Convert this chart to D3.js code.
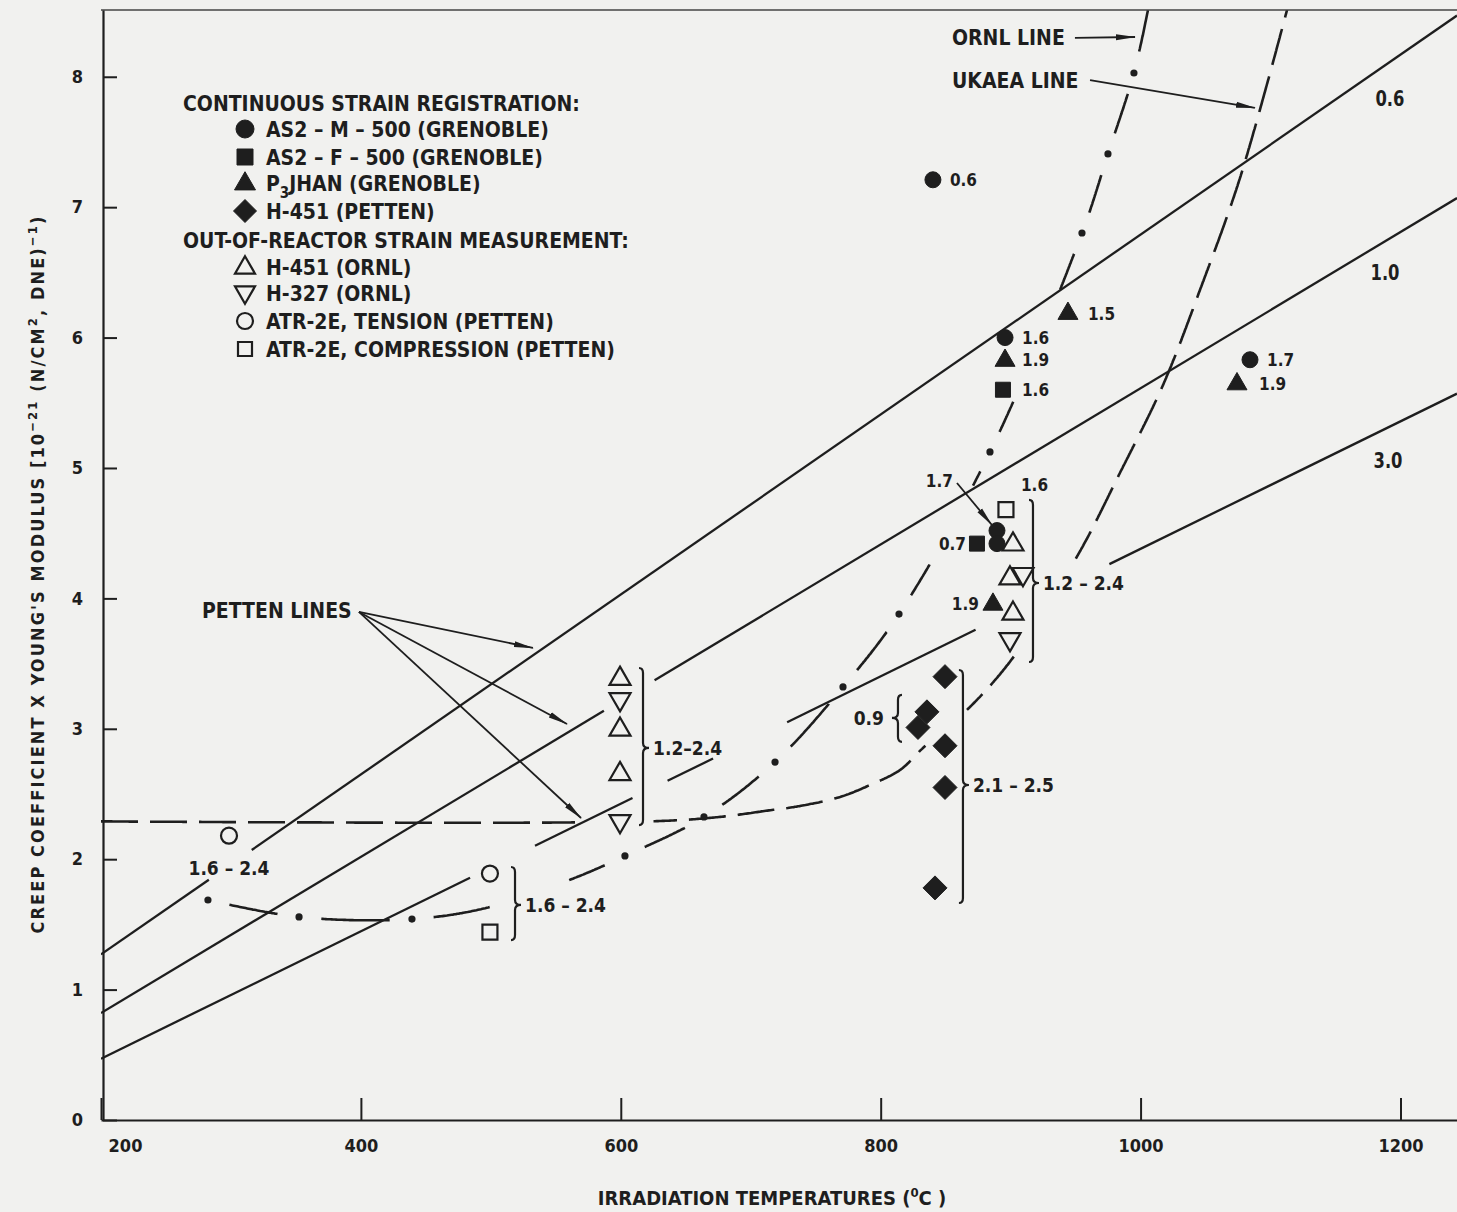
<!DOCTYPE html>
<html><head><meta charset="utf-8">
<script src="https://cdn.jsdelivr.net/npm/d3@7"></script>
<style>
html,body{margin:0;padding:0;background:#f1f1ef;}
svg{display:block;}
text{font-family:"Liberation Sans Narrow","DejaVu Sans Condensed","Arial Narrow",sans-serif;font-weight:bold;fill:#1e1e1e;}
</style></head><body>
<svg id="c" width="1457" height="1212"></svg>
<script>
// ---------------- DATA ----------------
const xTicks=[200,400,600,800,1000,1200];
const yTicks=[0,1,2,3,4,5,6,7,8];
// Petten lines (straight): value at 200 C and at right edge (1243.5 C)
const pettenLabels=["0.6","1.0","3.0"];
const pettenStart=[1.27,0.82,0.47];
const pettenEnd=[8.47,7.07,5.57];
// ORNL dash-dot curve (temperature, value)
const ornlCurve=[[282.3,1.687],[352.4,1.557],[439.3,1.541],[499.3,1.633],[562.4,1.848],[603.2,2.025],[664.0,2.324],[718.7,2.745],[771.0,3.321],[814.1,3.880],[884.1,5.123],[954.9,6.802],[974.9,7.408],[994.9,8.029],[1005.7,8.512]];
const ornlDots=[[282.3,1.687],[352.4,1.557],[439.3,1.541],[603.2,2.025],[664.0,2.324],[718.7,2.745],[771.0,3.321],[814.1,3.880],[884.1,5.123],[954.9,6.802],[974.9,7.408],[994.9,8.029]];
// UKAEA dashed curve
const ukaeaCurve=[[200,2.29],[622,2.29],[676.3,2.324],[711.0,2.370],[737.9,2.408],[768.7,2.477],[791.8,2.569],[814.9,2.684],[832.6,2.853],[868.7,3.167],[903.4,3.566],[951.8,4.333],[984.1,4.962],[1017.3,5.637],[1045.7,6.365],[1076.5,7.224],[1112.7,8.512]];
// Measurements [temperature, value, fluence label]
const as2M=[[840.2,7.21,"0.6"],[895.7,6.00,"1.6"],[1084.2,5.83,"1.7"],[889.5,4.52,""],[889.5,4.42,""]];
const as2F=[[894.1,5.60,"1.6"],[874.1,4.42,"0.7"]];
const p3jhan=[[944.1,6.19,"1.5"],[895.7,5.83,"1.9"],[1074.2,5.65,"1.9"],[886.4,3.96,"1.9"]];
const h451Petten=[[849.5,3.40],[835.6,3.13],[828.7,3.01],[849.5,2.87],[849.5,2.55],[841.8,1.78]];
const h451Ornl=[[599.4,3.39],[599.4,3.00],[599.4,2.66],[901.8,4.42],[899.5,4.16],[901.8,3.89]];
const h327Ornl=[[599.4,3.22],[599.4,2.285],[909.5,4.18],[899.5,3.68]];
const atrTension=[[298.5,2.18],[499.3,1.89]];
const atrCompression=[[499.3,1.44],[896.4,4.68,"1.6"]];
// Fluence range brackets: temperature, value top, value bottom, tip value, label
const bracketT=[617.1,518.6,917.2,863.3,813.3];
const bracketTop=[3.466,1.94,4.755,3.451,3.26];
const bracketBottom=[2.262,1.38,3.512,1.664,2.90];
const bracketTip=[2.853,1.649,4.118,2.569,3.083];
const bracketLabels=["1.2–2.4","1.6 – 2.4","1.2 – 2.4","2.1 – 2.5","0.9"];
const bracketDir=[1,1,1,1,-1];

// ---------------- LAYOUT ----------------
const ink="#1e1e1e", bg="#f1f1ef";
const svg=d3.select("#c");
const x=d3.scaleLinear().domain([200,1243.5]).range([101,1457]);
const y=d3.scaleLinear().domain([0,8.512]).range([1120,10]);
const Tmax=1243.5;

svg.append("defs").html(`
<clipPath id="plot"><rect x="101" y="10" width="1356" height="1110"/></clipPath>
<marker id="ah" viewBox="0 0 20 8" refX="19" refY="4" markerWidth="20" markerHeight="8" markerUnits="userSpaceOnUse" orient="auto"><path d="M0,1 L20,4 L0,7 Z" fill="${ink}"/></marker>`);

const g=svg.append("g").attr("clip-path","url(#plot)");

// frame top
svg.append("line").attr("x1",x(200)).attr("x2",1457).attr("y1",y(8.512)).attr("y2",y(8.512)).attr("stroke","#444").attr("stroke-width",1.6);

// axes
const xa=svg.append("g").attr("transform",`translate(0,${y(0)})`)
 .call(d3.axisBottom(x).tickValues(xTicks).tickSize(-22).tickSizeOuter(0).tickPadding(19).tickFormat(d3.format("d")));
const ya=svg.append("g").attr("transform",`translate(${x(200)+2},0)`)
 .call(d3.axisLeft(y).tickValues(yTicks).tickSize(-14).tickSizeOuter(0).tickPadding(20).tickFormat(d3.format("d")));
[xa,ya].forEach(a=>{a.attr("font-family",null);a.select(".domain").attr("stroke",ink).attr("stroke-width",2.2);
 a.selectAll(".tick line").attr("stroke",ink).attr("stroke-width",2);
 a.selectAll(".tick text").attr("font-size",18).attr("fill",ink);});
xa.selectAll(".tick").filter(d=>d===200).select("text").attr("dx",24);

// axis titles
const yt=svg.append("text").attr("transform",`translate(44,574) rotate(-90)`).attr("text-anchor","middle").attr("font-size",18).attr("letter-spacing",2.1);
yt.append("tspan").text("CREEP COEFFICIENT X YOUNG'S MODULUS [10");
yt.append("tspan").attr("dy",-7).attr("font-size",13).text("−21");
yt.append("tspan").attr("dy",7).text(" (N/CM");
yt.append("tspan").attr("dy",-7).attr("font-size",13).text("2");
yt.append("tspan").attr("dy",7).text(", DNE)");
yt.append("tspan").attr("dy",-7).attr("font-size",13).text("−1");
yt.append("tspan").attr("dy",7).text(")");
const xt=svg.append("text").attr("x",772).attr("y",1205).attr("text-anchor","middle").attr("font-size",20);
xt.append("tspan").text("IRRADIATION TEMPERATURES (");
xt.append("tspan").attr("dy",-8).attr("font-size",13).text("0");
xt.append("tspan").attr("dy",8).text("C )");

// ---------- helpers ----------
function splitRange(t0,t1,gaps){let segs=[[t0,t1]];for(const gp of gaps){segs=segs.flatMap(([a,b])=>{if(gp[1]<=a||gp[0]>=b)return[[a,b]];const o=[];if(gp[0]>a)o.push([a,gp[0]]);if(gp[1]<b)o.push([gp[1],b]);return o;});}return segs;}
function hidden(points){return g.append("path").attr("d",d3.line().x(d=>x(d[0])).y(d=>y(d[1])).curve(d3.curveCatmullRom.alpha(0.5))(points)).attr("fill","none").attr("stroke","none").node();}
function sampled(node,intervals,gaps){let d="";for(const[s0,s1]of intervals){let pen=false;for(let s=s0;;s+=1.5){const ss=Math.min(s,s1);const p=node.getPointAtLength(ss);const T=x.invert(p.x);const inGap=gaps.some(q=>T>=q[0]&&T<=q[1]);if(inGap){pen=false;}else{d+=(pen?"L":"M")+p.x.toFixed(1)+","+p.y.toFixed(1);pen=true;}if(ss>=s1)break;}}return d;}
function lengthAt(node,px,py){let best=0,bd=1e12;const L=node.getTotalLength();for(let s=0;s<=L;s+=0.75){const p=node.getPointAtLength(s);const dd=(p.x-px)**2+(p.y-py)**2;if(dd<bd){bd=dd;best=s;}}return best;}

// ---------- Petten lines ----------
const pettenGaps=[[[283,316]],[[587,626]],[[484,534],[609,636],[671,728],[873,976]]];
pettenLabels.forEach((lab,i)=>{
  const val=T=>pettenStart[i]+(pettenEnd[i]-pettenStart[i])*(T-200)/(Tmax-200);
  splitRange(200,Tmax,pettenGaps[i]).forEach(([a,b])=>{
    g.append("line").attr("x1",x(a)).attr("y1",y(val(a))).attr("x2",x(b)).attr("y2",y(val(b)))
     .attr("stroke",ink).attr("stroke-width",2.3);
  });
});
const curveLabelT=[1191.9,1188.1,1190.4], curveLabelV=[7.837,6.503,5.061];
pettenLabels.forEach((lab,i)=>svg.append("text").attr("x",x(curveLabelT[i])).attr("y",y(curveLabelV[i])).attr("dy","0.36em").attr("text-anchor","middle").attr("font-size",22).attr("textLength",29).attr("lengthAdjust","spacingAndGlyphs").text(lab));

// ---------- UKAEA dashed ----------
{
  const node=hidden(ukaeaCurve);const L=node.getTotalLength();const iv=[];
  for(let s=0;s<L;s+=49)iv.push([s,Math.min(s+37,L)]);
  g.append("path").attr("d",sampled(node,iv,[[565,625],[835,866],[906,950]])).attr("fill","none").attr("stroke",ink).attr("stroke-width",2.6);
}
// ---------- ORNL dash-dot ----------
{
  const node=hidden(ornlCurve);const L=node.getTotalLength();
  const Ls=ornlDots.map(d=>lengthAt(node,x(d[0]),y(d[1])));
  const gap=22, iv=[];
  for(let i=0;i<Ls.length-1;i++)iv.push([Ls[i]+gap,Ls[i+1]-gap]);
  iv.push([Ls[Ls.length-1]+gap,L]);
  g.append("path").attr("d",sampled(node,iv,[[500,560],[838,871],[902,938]])).attr("fill","none").attr("stroke",ink).attr("stroke-width",2.6);
  g.selectAll(".od").data(ornlDots).enter().append("circle").attr("cx",d=>x(d[0])).attr("cy",d=>y(d[1])).attr("r",3.6).attr("fill",ink);
}

// ---------- markers ----------
function shape(type,s){
  switch(type){
    case "circle": return d3.symbol(d3.symbolCircle,Math.PI*s*s)();
    case "square": return `M${-s},${-s}H${s}V${s}H${-s}Z`;
    case "tri": {const h=s*1.732/2;return `M0,${-h*0.62}L${s/2},${h*0.38}L${-s/2},${h*0.38}Z`;}
    case "itri": {const h=s*1.732/2;return `M0,${h*0.62}L${s/2},${-h*0.38}L${-s/2},${-h*0.38}Z`;}
    case "diamond": return `M0,${-s}L${s},0L0,${s}L${-s},0Z`;
  }
}
const series=[
 {key:"as2M",data:as2M,type:"circle",size:8,fill:true},
 {key:"as2F",data:as2F,type:"square",size:7.5,fill:true},
 {key:"p3",data:p3jhan,type:"tri",size:20,fill:true},
 {key:"h451P",data:h451Petten,type:"diamond",size:12,fill:true},
 {key:"h451O",data:h451Ornl,type:"tri",size:21,fill:false},
 {key:"h327O",data:h327Ornl,type:"itri",size:21,fill:false},
 {key:"atrT",data:atrTension,type:"circle",size:8,fill:false},
 {key:"atrC",data:atrCompression,type:"square",size:7.5,fill:false}
];
const labelOffsets={"as2F-1":[-11,0,"end"],"p3-3":[-14,0,"end"],"atrC-1":[15,-25,"start"],"p3-2":[22,1,"start"],"as2F-0":[19,0,"start"],"p3-0":[20,1,"start"]};
const mk=svg.append("g");
series.forEach(se=>{
  se.data.forEach((d,i)=>{
    mk.append("path").attr("d",shape(se.type,se.size)).attr("transform",`translate(${x(d[0])},${y(d[1])})`)
      .attr("fill",se.fill?ink:bg).attr("stroke",ink).attr("stroke-width",se.fill?1:2.2).attr("stroke-linejoin","miter");
    if(d[2]){const o=labelOffsets[se.key+"-"+i]||[17,0,"start"];
      mk.append("text").attr("x",x(d[0])+o[0]).attr("y",y(d[1])+o[1]).attr("dy","0.36em").attr("text-anchor",o[2]).attr("font-size",17).text(d[2]);}
  });
});

// ---------- brackets ----------
bracketT.forEach((T,i)=>{
  const bx=x(T), y0=y(bracketTop[i]), y1=y(bracketBottom[i]), ty=y(bracketTip[i]), s=bracketDir[i];
  const d=`M${bx-4*s},${y0} Q${bx},${y0} ${bx},${y0+5} L${bx},${ty-5} Q${bx},${ty} ${bx+6*s},${ty} Q${bx},${ty} ${bx},${ty+5} L${bx},${y1-5} Q${bx},${y1} ${bx-4*s},${y1}`;
  svg.append("path").attr("d",d).attr("fill","none").attr("stroke",ink).attr("stroke-width",2.2);
  svg.append("text").attr("x",bx+(s>0?10:-14)).attr("y",ty).attr("dy","0.36em").attr("text-anchor",s>0?"start":"end").attr("font-size",19).text(bracketLabels[i]);
});
svg.append("text").attr("x",x(298.5)).attr("y",y(1.93)).attr("dy","0.36em").attr("text-anchor","middle").attr("font-size",19).text("1.6 – 2.4");

// ---------- annotations with arrows ----------
function arrow(a,b){svg.append("line").attr("x1",x(a[0])).attr("y1",y(a[1])).attr("x2",x(b[0])).attr("y2",y(b[1])).attr("stroke",ink).attr("stroke-width",1.8).attr("marker-end","url(#ah)");}
svg.append("text").attr("x",x(854.9)).attr("y",y(8.298)).attr("dy","0.36em").attr("font-size",21).text("ORNL LINE");
arrow([949.5,8.298],[995.7,8.305]);
svg.append("text").attr("x",x(854.9)).attr("y",y(7.968)).attr("dy","0.36em").attr("font-size",21).text("UKAEA LINE");
arrow([961.1,7.975],[1088.0,7.761]);
svg.append("text").attr("x",x(277.7)).attr("y",y(3.911)).attr("dy","0.36em").attr("font-size",21).text("PETTEN LINES");
[[532.4,3.620],[558.6,3.037],[569.4,2.316]].forEach(e=>arrow([398.5,3.896],e));
svg.append("text").attr("x",x(855.6)).attr("y",y(4.9)).attr("dy","0.36em").attr("text-anchor","end").attr("font-size",17).text("1.7");
arrow([858.7,4.885],[885.6,4.563]);

// ---------- legend ----------
const lg=svg.append("g");
const legRows=[
 {title:"CONTINUOUS STRAIN REGISTRATION:",y:103},
 {type:"circle",size:9,fill:true,text:"AS2 – M – 500 (GRENOBLE)",y:129},
 {type:"square",size:8,fill:true,text:"AS2 – F – 500 (GRENOBLE)",y:157},
 {type:"tri",size:21,fill:true,text:"P3JHAN (GRENOBLE)",y:183,sub:true},
 {type:"diamond",size:11.5,fill:true,text:"H-451 (PETTEN)",y:211},
 {title:"OUT-OF-REACTOR STRAIN MEASUREMENT:",y:240},
 {type:"tri",size:20,fill:false,text:"H-451 (ORNL)",y:267},
 {type:"itri",size:20,fill:false,text:"H-327 (ORNL)",y:293},
 {type:"circle",size:8,fill:false,text:"ATR-2E, TENSION (PETTEN)",y:321},
 {type:"square",size:7,fill:false,text:"ATR-2E, COMPRESSION (PETTEN)",y:349}
];
legRows.forEach(r=>{
  if(r.title){lg.append("text").attr("x",183).attr("y",r.y).attr("dy","0.36em").attr("font-size",21).text(r.title);return;}
  lg.append("path").attr("d",shape(r.type,r.size)).attr("transform",`translate(245,${r.y})`).attr("fill",r.fill?ink:bg).attr("stroke",ink).attr("stroke-width",r.fill?1:2.2);
  const t=lg.append("text").attr("x",266).attr("y",r.y).attr("dy","0.36em").attr("font-size",21);
  if(r.sub){t.append("tspan").text("P");t.append("tspan").attr("dy",7).attr("font-size",15).text("3");t.append("tspan").attr("dy",-7).text("JHAN (GRENOBLE)");}
  else t.text(r.text);
});
</script></body></html>
